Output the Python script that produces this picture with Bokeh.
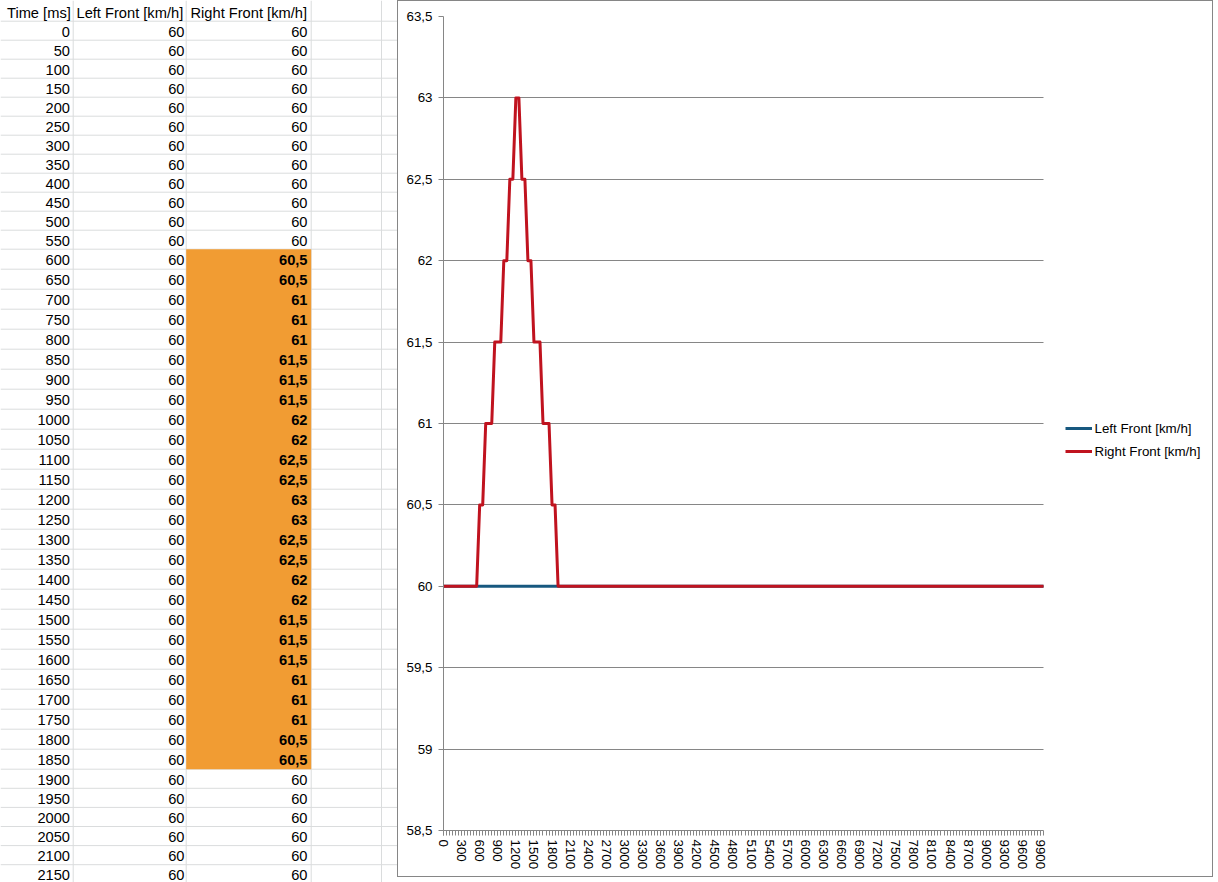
from bokeh.plotting import figure
from bokeh.models import Range1d, FixedTicker, CustomJSTickFormatter, Legend, LegendItem, Grid
from bokeh.layouts import row
from bokeh.embed import file_html
from bokeh.resources import INLINE
from bokeh.core.properties import value

# ---------------- data ----------------
time_ms = list(range(0, 10000, 50))          # 200 samples, 0 .. 9950 ms
left_front = [60] * 200
right_front = ([60] * 12
               + [60.5, 60.5, 61, 61, 61, 61.5, 61.5, 61.5, 62, 62, 62.5, 62.5, 63,
                  63, 62.5, 62.5, 62, 62, 61.5, 61.5, 61.5, 61, 61, 61, 60.5, 60.5]
               + [60] * 162)
headers = ["Time [ms]", "Left Front [km/h]", "Right Front [km/h]"]
series_names = ["Left Front [km/h]", "Right Front [km/h]"]
y_ticks = [58.5, 59, 59.5, 60, 60.5, 61, 61.5, 62, 62.5, 63, 63.5]
x_label_ticks = list(range(0, 9901, 300))
highlight_from, highlight_to = 600, 1850
visible_rows = 44

# ---------------- styles ----------------
FONT = "Liberation Sans"
GRID = "#DADCDD"
GRAY = "#868686"
ORANGE = "#F19C33"
BLUE = "#17587F"
RED = "#C0131F"


def fmt(v):
    return ("%g" % v).replace(".", ",")


def row_top(i):
    if i <= 12:
        return 20.7 + 19.0 * i
    if i <= 38:
        return 248.7 + 20.0 * (i - 12)
    return 768.7 + 19.1 * (i - 38)


# ---------------- spreadsheet part ----------------
TW, TH = 397, 882
t = figure(width=TW, height=TH, x_range=Range1d(0, 397), y_range=Range1d(882, 0),
           output_backend="svg", toolbar_location=None, min_border=0,
           x_axis_location=None, y_axis_location=None, frame_align=False)
t.grid.visible = False
t.outline_line_color = None
t.background_fill_color = "white"
t.border_fill_color = "white"

col_lines = [72.7, 185.7, 310.7, 381]
t.segment(x0=col_lines, x1=col_lines, y0=[0] * 4, y1=[882] * 4, line_color=GRID, line_width=1)
hl = [row_top(k) for k in range(visible_rows + 1)]
t.segment(x0=[0] * len(hl), x1=[397] * len(hl), y0=hl, y1=hl, line_color=GRID, line_width=1)

i0 = time_ms.index(highlight_from)
i1 = time_ms.index(highlight_to)
t.quad(left=[185.7], right=[310.7], top=[row_top(i0)], bottom=[row_top(i1 + 1)],
       fill_color=ORANGE, line_color=None)

tf = value(FONT)
ts = value("14.67px")
t.text(x=[6.5, 76, 190], y=[12, 12, 12], text=headers, text_align="left",
       text_baseline="middle", text_font=tf, text_font_size=ts, text_color="black")

centers = [row_top(i) + 10.5 for i in range(visible_rows)]
t.text(x=[69.5] * visible_rows, y=centers, text=[str(v) for v in time_ms[:visible_rows]],
       text_align="right", text_baseline="middle", text_font=tf, text_font_size=ts, text_color="black")
t.text(x=[184] * visible_rows, y=centers, text=[fmt(v) for v in left_front[:visible_rows]],
       text_align="right", text_baseline="middle", text_font=tf, text_font_size=ts, text_color="black")
norm_idx = [i for i in range(visible_rows) if not (i0 <= i <= i1)]
bold_idx = [i for i in range(visible_rows) if i0 <= i <= i1]
t.text(x=[307] * len(norm_idx), y=[centers[i] for i in norm_idx],
       text=[fmt(right_front[i]) for i in norm_idx],
       text_align="right", text_baseline="middle", text_font=tf, text_font_size=ts, text_color="black")
t.text(x=[307] * len(bold_idx), y=[centers[i] for i in bold_idx],
       text=[fmt(right_front[i]) for i in bold_idx],
       text_align="right", text_baseline="middle", text_font=tf, text_font_size=ts,
       text_font_style="bold", text_color="black")

# ---------------- chart part ----------------
CW, CH = 816, 877
LEFT, RIGHT = 46, 10            # panel widths; frame = CW - LEFT - RIGHT
PLOT_W = 600                    # width used by the 0..9950 ms axis
x_end = time_ms[-1] * (CW - LEFT - RIGHT) / PLOT_W   # frame extends right to hold the legend

p = figure(width=CW, height=CH, x_range=Range1d(0, x_end), y_range=Range1d(58.5, 63.5),
           output_backend="svg", toolbar_location=None, frame_align=False,
           min_border_left=LEFT, min_border_right=RIGHT, min_border_top=16, min_border_bottom=47)
p.border_fill_color = None
p.background_fill_color = "white"
p.outline_line_color = None
p.styles = {"background-color": "white", "box-shadow": "inset 0 0 0 1px #868686"}

p.xgrid.grid_line_color = None
if "cross_bounds" in Grid.properties():
    p.ygrid.grid_line_color = GRAY
    p.ygrid.grid_line_width = 1
    p.ygrid.cross_bounds = (0, time_ms[-1])
else:
    p.ygrid.grid_line_color = None
    p.segment(x0=[0] * len(y_ticks), x1=[time_ms[-1]] * len(y_ticks), y0=y_ticks, y1=y_ticks,
              line_color=GRAY, line_width=1)

r1 = p.line(time_ms, left_front, line_color=BLUE, line_width=3, line_join="round")
r2 = p.line(time_ms, right_front, line_color=RED, line_width=3, line_join="round")

xa = p.xaxis[0]
xa.bounds = (0, time_ms[-1])
xa.ticker = FixedTicker(ticks=x_label_ticks, minor_ticks=time_ms)
xa.major_label_orientation = "vertical"
xa.major_tick_out = 5
xa.major_tick_in = 0
xa.minor_tick_out = 5
xa.minor_tick_in = 0
xa.axis_line_color = GRAY
xa.major_tick_line_color = GRAY
xa.minor_tick_line_color = GRAY
xa.major_label_standoff = 4
xa.major_label_text_font = FONT
xa.major_label_text_font_size = "13.33px"
xa.major_label_text_color = "black"

ya = p.yaxis[0]
ya.ticker = FixedTicker(ticks=y_ticks)
ya.formatter = CustomJSTickFormatter(code="return String(tick).replace('.', ',');")
ya.major_tick_out = 5
ya.major_tick_in = 0
ya.minor_tick_line_color = None
ya.axis_line_color = GRAY
ya.major_tick_line_color = GRAY
ya.major_label_standoff = 6
ya.major_label_text_font = FONT
ya.major_label_text_font_size = "13.33px"
ya.major_label_text_color = "black"

legend = Legend(items=[LegendItem(label=series_names[0], renderers=[r1]),
                       LegendItem(label=series_names[1], renderers=[r2])],
                location=(621.5, 369), orientation="vertical",
                glyph_width=27, glyph_height=20, label_height=20, label_standoff=3,
                spacing=3, padding=0, margin=0,
                border_line_alpha=0, background_fill_alpha=0,
                label_text_font=FONT, label_text_font_size="13.33px", label_text_color="black")
p.add_layout(legend, "center")

layout = row(t, p)
open("out.html", "w").write(file_html(layout, INLINE))
